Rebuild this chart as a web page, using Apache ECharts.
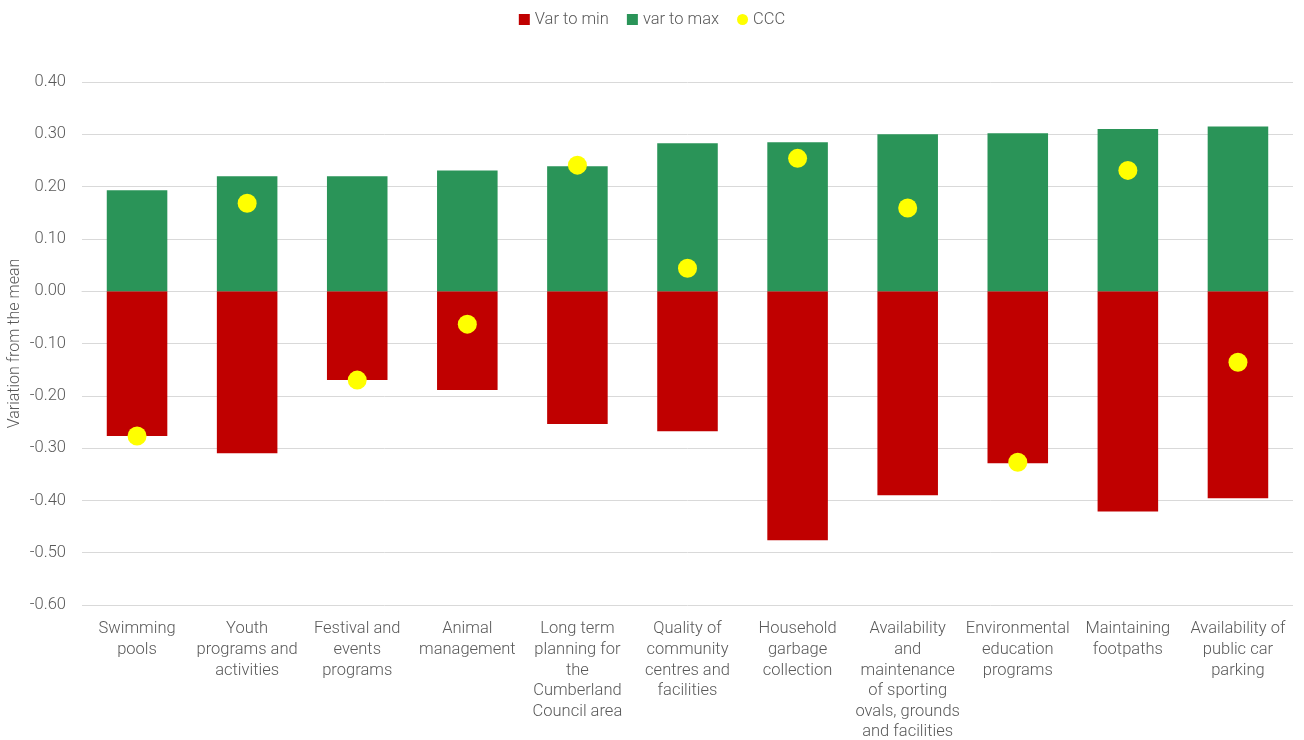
<!DOCTYPE html>
<html>
<head>
<meta charset="utf-8">
<script src="https://cdn.jsdelivr.net/npm/echarts@6/dist/echarts.min.js"></script>
<style>
  html, body { margin: 0; padding: 0; background: #fff; }
  #chart { width: 1304px; height: 740px; }
</style>
</head>
<body>
<div id="chart"></div>
<script>
// services, left to right
const categories = [
  'Swimming\npools',
  'Youth\nprograms and\nactivities',
  'Festival and\nevents\nprograms',
  'Animal\nmanagement',
  'Long term\nplanning for\nthe\nCumberland\nCouncil area',
  'Quality of\ncommunity\ncentres and\nfacilities',
  'Household\ngarbage\ncollection',
  'Availability\nand\nmaintenance\nof sporting\novals, grounds\nand facilities',
  'Environmental\neducation\nprograms',
  'Maintaining\nfootpaths',
  'Availability of\npublic car\nparking'
];
const varToMin = [-0.277, -0.310, -0.170, -0.189, -0.254, -0.268, -0.476, -0.390, -0.329, -0.421, -0.396];
const varToMax = [0.193, 0.220, 0.220, 0.231, 0.239, 0.283, 0.285, 0.300, 0.302, 0.310, 0.315];
const ccc = [-0.277, 0.168, -0.170, -0.063, 0.241, 0.044, 0.254, 0.159, -0.327, 0.231, -0.136];

const chart = echarts.init(document.getElementById('chart'));
const txt = { fontFamily: 'Roboto', fontWeight: 300, color: '#595959' };

chart.setOption({
  animation: false,
  textStyle: txt,
  legend: {
    top: 6,
    left: 'center',
    itemWidth: 11,
    itemHeight: 11,
    itemGap: 18,
    textStyle: { ...txt, fontSize: 16.5 },
    data: [
      { name: 'Var to min', icon: 'rect' },
      { name: 'var to max', icon: 'rect' },
      { name: 'CCC', icon: 'circle' }
    ]
  },
  grid: { left: 82, right: 11, top: 82, bottom: 135, outerBoundsMode: 'none' },
  xAxis: {
    type: 'category',
    data: categories,
    axisLine: { show: true, lineStyle: { color: '#d9d9d9' } },
    axisTick: { show: false },
    axisLabel: { ...txt, fontSize: 16.5, lineHeight: 20.6, interval: 0, margin: 14 }
  },
  yAxis: {
    type: 'value',
    min: -0.6,
    max: 0.4,
    interval: 0.1,
    name: 'Variation from the mean',
    nameLocation: 'middle',
    nameGap: 59,
    nameMoveOverlap: false,
    nameTextStyle: { ...txt, fontSize: 16 },
    axisLine: { show: false },
    axisTick: { show: false },
    axisLabel: { ...txt, fontSize: 16.5, margin: 16, formatter: v => v.toFixed(2) },
    splitLine: { lineStyle: { color: '#d9d9d9' } }
  },
  series: [
    {
      name: 'Var to min',
      type: 'bar',
      stack: 'v',
      barWidth: '55%',
      itemStyle: { color: '#C00000' },
      data: varToMin
    },
    {
      name: 'var to max',
      type: 'bar',
      stack: 'v',
      barWidth: '55%',
      itemStyle: { color: '#2A9458' },
      data: varToMax
    },
    {
      name: 'CCC',
      type: 'scatter',
      symbolSize: 19,
      itemStyle: { color: '#FFFF00', opacity: 1 },
      z: 5,
      data: ccc
    }
  ]
});
</script>
</body>
</html>
